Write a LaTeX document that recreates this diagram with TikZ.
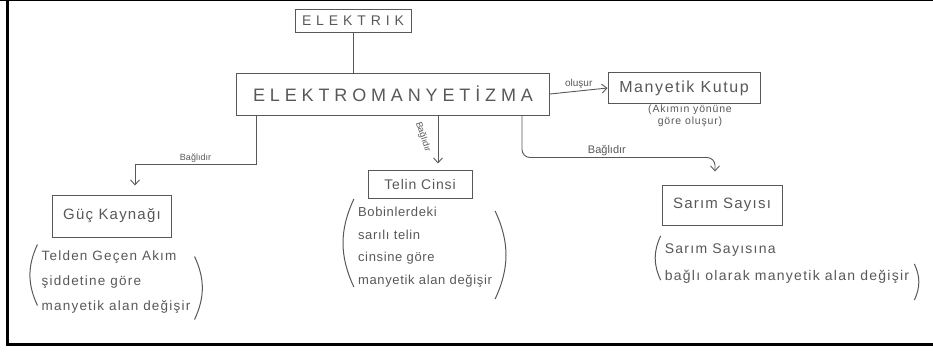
\documentclass[tikz,border=0pt]{standalone}
\usepackage{fontspec}
\setmainfont{Liberation Sans}
\usetikzlibrary{arrows.meta}
\definecolor{pencil}{RGB}{88,88,88}
\begin{document}
\begin{tikzpicture}[x=1pt,y=-1pt,
  every node/.style={text=pencil},
  box/.style={draw=pencil, line width=1pt, inner sep=0pt},
  link/.style={draw=pencil, line width=0.9pt, -{Straight Barb[length=5pt,width=9pt]}},
  lbl/.style={font=\fontsize{9}{10}\selectfont, inner sep=1.5pt},
  note/.style={align=left, inner sep=2pt},
  paren/.style={draw=pencil, line width=1pt}]
\useasboundingbox (0,0) rectangle (933,356);

% page frame
\draw[line width=1.5pt] (0,0.6) -- (933,0.6);
\draw[line width=3pt] (7.5,0) -- (7.5,344);
\draw[line width=3pt] (6,344) -- (933,344);

% main concepts
\node[box, minimum width=116, minimum height=23,
      font=\fontsize{14}{14}\selectfont\addfontfeature{LetterSpace=35}]
  (elektrik) at (353,21) {ELEKTRIK};
\node[box, minimum width=313, minimum height=42,
      font=\fontsize{18}{18}\selectfont\addfontfeature{LetterSpace=27}]
  (em) at (393,94) {ELEKTROMANYETİZMA};
\node[box, minimum width=152, minimum height=31,
      font=\fontsize{16}{16}\selectfont\addfontfeature{LetterSpace=10}]
  (kutup) at (684,88) {Manyetik Kutup};
\node[box, minimum width=119, minimum height=42,
      font=\fontsize{15}{15}\selectfont\addfontfeature{LetterSpace=8}]
  (guc) at (112,216) {Güç Kaynağı};
\node[box, minimum width=104, minimum height=28,
      font=\fontsize{14}{14}\selectfont\addfontfeature{LetterSpace=6}]
  (tel) at (420,184) {Telin Cinsi};
\node[box, minimum width=120, minimum height=40,
      font=\fontsize{15}{15}\selectfont\addfontfeature{LetterSpace=8}]
  (sarim) at (722,205) {Sarım Sayısı};

% explanatory notes
\node[note, align=center, font=\fontsize{10.5}{12}\selectfont\addfontfeature{LetterSpace=8}]
  (kutupnote) at (690,116) {(Akımın yönüne\\göre oluşur)};
\node[note, font=\fontsize{13.5}{25}\selectfont\addfontfeature{LetterSpace=9}]
  (gucnote) at (116,282) {Telden Geçen Akım\\şiddetine göre\\manyetik alan değişir};
\node[note, font=\fontsize{13}{22.5}\selectfont\addfontfeature{LetterSpace=5}]
  (telnote) at (425,247) {Bobinlerdeki\\sarılı telin\\cinsine göre\\manyetik alan değişir};
\node[note, font=\fontsize{14}{27}\selectfont\addfontfeature{LetterSpace=9}]
  (sarimnote) at (787,264) {Sarım Sayısına\\bağlı olarak manyetik alan değişir};

% brackets round the notes
\draw[paren] ([shift={(-2,-4)}]gucnote.north west) to[bend right=25] ([shift={(-2,-10)}]gucnote.south west);
\draw[paren] ([shift={(2,8)}]gucnote.north east) to[bend left=25] ([shift={(2,4)}]gucnote.south east);
\draw[paren] ([shift={(-2,-6)}]telnote.north west) to[bend right=25] ([shift={(-2,-2)}]telnote.south west);
\draw[paren] ([shift={(1,6)}]telnote.north east) to[bend left=25] ([shift={(1,10)}]telnote.south east);
\draw[paren] ([shift={(-2,-6)}]sarimnote.north west) to[bend right=25] ([shift={(-2,-6)}]sarimnote.south west);
\draw[paren] ([shift={(3,22)}]sarimnote.north east) to[bend left=25] ([shift={(3,14)}]sarimnote.south east);

% connectors
\draw[draw=pencil, line width=0.9pt] (elektrik.south) -- (elektrik.south |- em.north);
\draw[link] (em.east) -- node[lbl, above, font=\fontsize{10}{10}\selectfont] {oluşur} (kutup.west);
\draw[link] ([xshift=20]em.south west) |- ([xshift=23,yshift=30]guc.north)
  node[lbl, pos=0.75, above] {Bağlıdır}
  -- ([xshift=23,yshift=9]guc.north);
\draw[link] ([xshift=18]tel.north |- em.south) -- ([xshift=18,yshift=6]tel.north)
  node[lbl, pos=0.45, xshift=-15pt, rotate=-72] {Bağlıdır};
\draw[link, rounded corners=8] ([xshift=-28]em.south east) |- ([xshift=-7,yshift=27]sarim.north)
  node[lbl, pos=0.72, above, font=\fontsize{11}{11}\selectfont] {Bağlıdır}
  -- ([xshift=-7,yshift=13]sarim.north);
\end{tikzpicture}
\end{document}
